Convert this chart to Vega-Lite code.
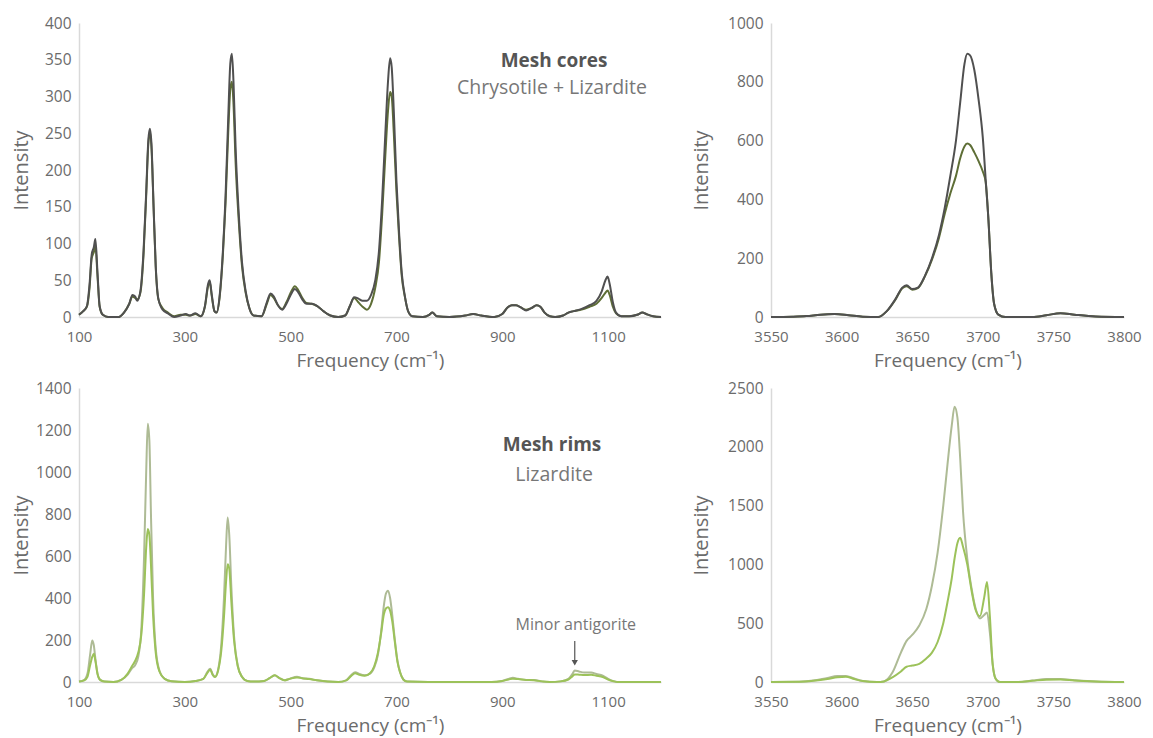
{
  "$schema": "https://vega.github.io/schema/vega-lite/v6.json",
  "padding": {"left": 11, "top": 16, "right": 5, "bottom": 1},
  "background": "white",
  "config": {
    "view": {"stroke": null},
    "font": "Open Sans",
    "axis": {
      "labelFont": "Open Sans",
      "titleFont": "Open Sans",
      "labelFontSize": 15.5,
      "titleFontSize": 20,
      "titleFontWeight": "normal",
      "labelColor": "#6b6b6b",
      "titleColor": "#6b6b6b",
      "domainColor": "#d9d9d9",
      "domainWidth": 1.5,
      "ticks": false,
      "grid": false,
      "labelFlush": false,
      "format": "d"
    },
    "axisX": {"labelPadding": 12, "titlePadding": 7, "labelFontSize": 15, "titleFontSize": 19},
    "axisY": {"labelPadding": 8}
  },
  "datasets": {
    "tlA": [
      {"f":100,"i":3},{"f":108,"i":8},{"f":115,"i":15},{"f":120,"i":45},{"f":124,"i":85},{"f":128,"i":95},{"f":131,"i":106},{"f":135,"i":60},{"f":139,"i":15},{"f":145,"i":3},{"f":155,"i":0},{"f":175,"i":0},{"f":185,"i":6},{"f":195,"i":18},{"f":201,"i":30},{"f":206,"i":28},{"f":210,"i":22},{"f":216,"i":35},{"f":222,"i":90},{"f":227,"i":170},{"f":231,"i":240},{"f":234,"i":256},{"f":237,"i":235},{"f":241,"i":150},{"f":245,"i":70},{"f":250,"i":25},{"f":258,"i":10},{"f":268,"i":5},{"f":280,"i":0},{"f":292,"i":2},{"f":302,"i":4},{"f":310,"i":2},{"f":320,"i":5},{"f":330,"i":1},{"f":338,"i":15},{"f":344,"i":45},{"f":347,"i":50},{"f":351,"i":30},{"f":356,"i":8},{"f":360,"i":6},{"f":366,"i":30},{"f":372,"i":90},{"f":377,"i":165},{"f":382,"i":270},{"f":386,"i":345},{"f":389,"i":358},{"f":392,"i":320},{"f":396,"i":230},{"f":402,"i":140},{"f":408,"i":75},{"f":415,"i":35},{"f":422,"i":12},{"f":430,"i":2},{"f":445,"i":1},{"f":455,"i":20},{"f":462,"i":32},{"f":468,"i":28},{"f":476,"i":16},{"f":484,"i":10},{"f":492,"i":18},{"f":500,"i":30},{"f":508,"i":38},{"f":514,"i":34},{"f":522,"i":24},{"f":530,"i":18},{"f":540,"i":18},{"f":552,"i":14},{"f":562,"i":8},{"f":575,"i":2},{"f":590,"i":0},{"f":603,"i":2},{"f":612,"i":15},{"f":620,"i":27},{"f":628,"i":25},{"f":636,"i":22},{"f":644,"i":22},{"f":652,"i":30},{"f":660,"i":50},{"f":667,"i":90},{"f":673,"i":160},{"f":679,"i":250},{"f":684,"i":320},{"f":688,"i":352},{"f":691,"i":340},{"f":695,"i":280},{"f":700,"i":185},{"f":705,"i":115},{"f":710,"i":60},{"f":716,"i":28},{"f":722,"i":8},{"f":730,"i":1},{"f":750,"i":0},{"f":762,"i":3},{"f":768,"i":6},{"f":776,"i":1},{"f":800,"i":0},{"f":830,"i":2},{"f":845,"i":4},{"f":860,"i":2},{"f":885,"i":0},{"f":900,"i":4},{"f":910,"i":13},{"f":918,"i":16},{"f":926,"i":16},{"f":935,"i":13},{"f":945,"i":9},{"f":955,"i":12},{"f":965,"i":16},{"f":972,"i":14},{"f":980,"i":6},{"f":990,"i":1},{"f":1000,"i":0},{"f":1015,"i":2},{"f":1025,"i":6},{"f":1035,"i":8},{"f":1050,"i":11},{"f":1065,"i":16},{"f":1078,"i":22},{"f":1088,"i":35},{"f":1095,"i":50},{"f":1099,"i":55},{"f":1103,"i":45},{"f":1109,"i":20},{"f":1115,"i":6},{"f":1125,"i":1},{"f":1140,"i":1},{"f":1155,"i":3},{"f":1165,"i":6},{"f":1172,"i":4},{"f":1185,"i":1},{"f":1200,"i":0}
    ],
    "tlB": [
      {"f":100,"i":3},{"f":108,"i":8},{"f":115,"i":14},{"f":120,"i":40},{"f":124,"i":80},{"f":128,"i":88},{"f":131,"i":96},{"f":135,"i":55},{"f":139,"i":14},{"f":145,"i":3},{"f":155,"i":0},{"f":175,"i":0},{"f":185,"i":6},{"f":195,"i":18},{"f":201,"i":28},{"f":206,"i":26},{"f":210,"i":24},{"f":216,"i":33},{"f":222,"i":85},{"f":227,"i":165},{"f":231,"i":235},{"f":234,"i":252},{"f":237,"i":230},{"f":241,"i":148},{"f":245,"i":68},{"f":250,"i":24},{"f":258,"i":12},{"f":268,"i":6},{"f":280,"i":1},{"f":292,"i":3},{"f":302,"i":3},{"f":310,"i":2},{"f":320,"i":4},{"f":330,"i":1},{"f":338,"i":14},{"f":344,"i":42},{"f":347,"i":48},{"f":351,"i":28},{"f":356,"i":8},{"f":360,"i":6},{"f":366,"i":28},{"f":372,"i":85},{"f":377,"i":155},{"f":382,"i":250},{"f":386,"i":310},{"f":389,"i":320},{"f":392,"i":290},{"f":396,"i":210},{"f":402,"i":130},{"f":408,"i":70},{"f":415,"i":33},{"f":422,"i":12},{"f":430,"i":2},{"f":445,"i":1},{"f":455,"i":18},{"f":462,"i":30},{"f":468,"i":26},{"f":476,"i":16},{"f":484,"i":11},{"f":492,"i":20},{"f":500,"i":33},{"f":508,"i":42},{"f":514,"i":37},{"f":522,"i":26},{"f":530,"i":19},{"f":540,"i":18},{"f":552,"i":14},{"f":562,"i":8},{"f":575,"i":2},{"f":590,"i":0},{"f":603,"i":2},{"f":612,"i":15},{"f":620,"i":26},{"f":628,"i":20},{"f":636,"i":14},{"f":644,"i":10},{"f":652,"i":18},{"f":660,"i":40},{"f":667,"i":75},{"f":673,"i":140},{"f":679,"i":220},{"f":684,"i":280},{"f":688,"i":306},{"f":691,"i":300},{"f":695,"i":250},{"f":700,"i":170},{"f":705,"i":108},{"f":710,"i":56},{"f":716,"i":27},{"f":722,"i":8},{"f":730,"i":1},{"f":750,"i":0},{"f":762,"i":3},{"f":768,"i":6},{"f":776,"i":1},{"f":800,"i":0},{"f":830,"i":2},{"f":845,"i":4},{"f":860,"i":2},{"f":885,"i":0},{"f":900,"i":4},{"f":910,"i":13},{"f":918,"i":16},{"f":926,"i":16},{"f":935,"i":13},{"f":945,"i":10},{"f":955,"i":12},{"f":965,"i":16},{"f":972,"i":14},{"f":980,"i":6},{"f":990,"i":1},{"f":1000,"i":0},{"f":1015,"i":2},{"f":1025,"i":6},{"f":1035,"i":8},{"f":1050,"i":10},{"f":1065,"i":14},{"f":1078,"i":18},{"f":1088,"i":26},{"f":1095,"i":33},{"f":1099,"i":36},{"f":1103,"i":30},{"f":1109,"i":14},{"f":1115,"i":5},{"f":1125,"i":1},{"f":1140,"i":1},{"f":1155,"i":3},{"f":1165,"i":6},{"f":1172,"i":4},{"f":1185,"i":1},{"f":1200,"i":0}
    ],
    "trA": [
      {"f":3550,"i":0},{"f":3565,"i":1},{"f":3575,"i":3},{"f":3585,"i":8},{"f":3595,"i":10},{"f":3605,"i":6},{"f":3615,"i":1},{"f":3626,"i":0},{"f":3632,"i":20},{"f":3638,"i":60},{"f":3643,"i":100},{"f":3646,"i":108},{"f":3650,"i":95},{"f":3654,"i":100},{"f":3659,"i":140},{"f":3664,"i":200},{"f":3669,"i":280},{"f":3673,"i":370},{"f":3677,"i":480},{"f":3681,"i":600},{"f":3684,"i":730},{"f":3687,"i":860},{"f":3689,"i":895},{"f":3691,"i":890},{"f":3694,"i":840},{"f":3697,"i":740},{"f":3700,"i":610},{"f":3702,"i":470},{"f":3704,"i":330},{"f":3706,"i":150},{"f":3708,"i":45},{"f":3711,"i":8},{"f":3716,"i":0},{"f":3735,"i":0},{"f":3745,"i":6},{"f":3755,"i":13},{"f":3765,"i":8},{"f":3780,"i":2},{"f":3800,"i":0}
    ],
    "trB": [
      {"f":3550,"i":0},{"f":3565,"i":1},{"f":3575,"i":3},{"f":3585,"i":8},{"f":3595,"i":10},{"f":3605,"i":6},{"f":3615,"i":1},{"f":3626,"i":0},{"f":3632,"i":20},{"f":3638,"i":58},{"f":3643,"i":98},{"f":3646,"i":105},{"f":3650,"i":93},{"f":3654,"i":98},{"f":3659,"i":138},{"f":3664,"i":195},{"f":3669,"i":270},{"f":3673,"i":350},{"f":3677,"i":420},{"f":3681,"i":480},{"f":3684,"i":540},{"f":3687,"i":580},{"f":3689,"i":590},{"f":3691,"i":585},{"f":3694,"i":560},{"f":3697,"i":530},{"f":3700,"i":495},{"f":3702,"i":460},{"f":3704,"i":330},{"f":3706,"i":150},{"f":3708,"i":45},{"f":3711,"i":8},{"f":3716,"i":0},{"f":3735,"i":0},{"f":3745,"i":6},{"f":3755,"i":13},{"f":3765,"i":8},{"f":3780,"i":2},{"f":3800,"i":0}
    ],
    "blA": [
      {"f":100,"i":2},{"f":110,"i":10},{"f":116,"i":40},{"f":121,"i":130},{"f":125,"i":198},{"f":128,"i":175},{"f":131,"i":110},{"f":135,"i":40},{"f":140,"i":10},{"f":148,"i":2},{"f":165,"i":0},{"f":180,"i":10},{"f":192,"i":35},{"f":200,"i":65},{"f":206,"i":80},{"f":212,"i":120},{"f":218,"i":260},{"f":223,"i":600},{"f":227,"i":1000},{"f":230,"i":1230},{"f":233,"i":1150},{"f":236,"i":800},{"f":240,"i":400},{"f":245,"i":160},{"f":252,"i":55},{"f":262,"i":15},{"f":275,"i":3},{"f":300,"i":0},{"f":320,"i":5},{"f":335,"i":15},{"f":343,"i":50},{"f":348,"i":63},{"f":353,"i":35},{"f":357,"i":25},{"f":363,"i":60},{"f":369,"i":180},{"f":374,"i":400},{"f":378,"i":650},{"f":381,"i":783},{"f":384,"i":700},{"f":388,"i":450},{"f":393,"i":220},{"f":400,"i":80},{"f":408,"i":25},{"f":418,"i":5},{"f":430,"i":2},{"f":450,"i":5},{"f":460,"i":18},{"f":470,"i":32},{"f":478,"i":20},{"f":488,"i":8},{"f":498,"i":15},{"f":512,"i":25},{"f":522,"i":18},{"f":535,"i":15},{"f":550,"i":8},{"f":570,"i":2},{"f":590,"i":0},{"f":605,"i":8},{"f":615,"i":35},{"f":622,"i":47},{"f":630,"i":38},{"f":640,"i":32},{"f":650,"i":40},{"f":658,"i":70},{"f":665,"i":130},{"f":671,"i":240},{"f":676,"i":360},{"f":680,"i":420},{"f":684,"i":435},{"f":688,"i":400},{"f":692,"i":320},{"f":697,"i":200},{"f":702,"i":100},{"f":707,"i":45},{"f":713,"i":12},{"f":720,"i":2},{"f":760,"i":0},{"f":880,"i":0},{"f":900,"i":5},{"f":912,"i":15},{"f":920,"i":20},{"f":930,"i":15},{"f":945,"i":10},{"f":960,"i":10},{"f":975,"i":3},{"f":990,"i":0},{"f":1010,"i":3},{"f":1025,"i":15},{"f":1033,"i":40},{"f":1037,"i":55},{"f":1045,"i":50},{"f":1055,"i":45},{"f":1068,"i":45},{"f":1078,"i":38},{"f":1090,"i":30},{"f":1100,"i":15},{"f":1110,"i":4},{"f":1118,"i":0},{"f":1200,"i":0}
    ],
    "blB": [
      {"f":100,"i":2},{"f":110,"i":8},{"f":116,"i":25},{"f":121,"i":80},{"f":125,"i":120},{"f":128,"i":134},{"f":131,"i":100},{"f":135,"i":38},{"f":140,"i":10},{"f":148,"i":2},{"f":165,"i":0},{"f":180,"i":10},{"f":192,"i":40},{"f":200,"i":75},{"f":206,"i":100},{"f":212,"i":140},{"f":218,"i":230},{"f":223,"i":420},{"f":227,"i":640},{"f":230,"i":728},{"f":233,"i":700},{"f":236,"i":560},{"f":240,"i":320},{"f":245,"i":140},{"f":252,"i":50},{"f":262,"i":15},{"f":275,"i":3},{"f":300,"i":0},{"f":320,"i":5},{"f":335,"i":15},{"f":343,"i":45},{"f":348,"i":58},{"f":353,"i":33},{"f":357,"i":24},{"f":363,"i":55},{"f":369,"i":150},{"f":374,"i":310},{"f":378,"i":480},{"f":381,"i":561},{"f":384,"i":540},{"f":388,"i":380},{"f":393,"i":200},{"f":400,"i":75},{"f":408,"i":25},{"f":418,"i":5},{"f":430,"i":2},{"f":450,"i":5},{"f":460,"i":18},{"f":470,"i":32},{"f":478,"i":20},{"f":488,"i":8},{"f":498,"i":15},{"f":512,"i":22},{"f":522,"i":18},{"f":535,"i":14},{"f":550,"i":8},{"f":570,"i":2},{"f":590,"i":0},{"f":605,"i":8},{"f":615,"i":30},{"f":622,"i":42},{"f":630,"i":34},{"f":640,"i":30},{"f":650,"i":42},{"f":658,"i":75},{"f":665,"i":140},{"f":671,"i":230},{"f":676,"i":320},{"f":680,"i":350},{"f":684,"i":356},{"f":688,"i":340},{"f":692,"i":290},{"f":697,"i":190},{"f":702,"i":95},{"f":707,"i":45},{"f":713,"i":12},{"f":720,"i":2},{"f":760,"i":0},{"f":880,"i":0},{"f":900,"i":5},{"f":912,"i":12},{"f":920,"i":16},{"f":930,"i":14},{"f":945,"i":10},{"f":960,"i":8},{"f":975,"i":3},{"f":990,"i":0},{"f":1010,"i":3},{"f":1025,"i":12},{"f":1033,"i":28},{"f":1037,"i":36},{"f":1045,"i":35},{"f":1055,"i":33},{"f":1068,"i":34},{"f":1078,"i":30},{"f":1090,"i":24},{"f":1100,"i":12},{"f":1110,"i":4},{"f":1118,"i":0},{"f":1200,"i":0}
    ],
    "brA": [
      {"f":3550,"i":0},{"f":3570,"i":2},{"f":3580,"i":12},{"f":3590,"i":35},{"f":3597,"i":50},{"f":3603,"i":52},{"f":3609,"i":30},{"f":3615,"i":8},{"f":3625,"i":0},{"f":3630,"i":5},{"f":3636,"i":80},{"f":3642,"i":250},{"f":3646,"i":350},{"f":3650,"i":400},{"f":3655,"i":480},{"f":3660,"i":620},{"f":3664,"i":820},{"f":3668,"i":1100},{"f":3672,"i":1500},{"f":3675,"i":1850},{"f":3678,"i":2180},{"f":3680,"i":2340},{"f":3682,"i":2250},{"f":3684,"i":1900},{"f":3686,"i":1450},{"f":3689,"i":1050},{"f":3692,"i":800},{"f":3695,"i":620},{"f":3698,"i":540},{"f":3701,"i":570},{"f":3703,"i":590},{"f":3705,"i":420},{"f":3707,"i":150},{"f":3709,"i":30},{"f":3712,"i":0},{"f":3725,"i":0},{"f":3735,"i":12},{"f":3745,"i":25},{"f":3755,"i":25},{"f":3765,"i":15},{"f":3780,"i":4},{"f":3800,"i":0}
    ],
    "brB": [
      {"f":3550,"i":0},{"f":3570,"i":2},{"f":3580,"i":10},{"f":3590,"i":25},{"f":3597,"i":40},{"f":3603,"i":45},{"f":3609,"i":25},{"f":3615,"i":8},{"f":3625,"i":0},{"f":3630,"i":5},{"f":3636,"i":40},{"f":3642,"i":90},{"f":3646,"i":130},{"f":3650,"i":140},{"f":3655,"i":155},{"f":3660,"i":200},{"f":3664,"i":250},{"f":3668,"i":340},{"f":3672,"i":500},{"f":3675,"i":680},{"f":3678,"i":880},{"f":3680,"i":1050},{"f":3682,"i":1180},{"f":3684,"i":1226},{"f":3686,"i":1150},{"f":3689,"i":1000},{"f":3692,"i":780},{"f":3695,"i":610},{"f":3698,"i":560},{"f":3701,"i":720},{"f":3703,"i":850},{"f":3705,"i":560},{"f":3707,"i":150},{"f":3709,"i":30},{"f":3712,"i":0},{"f":3725,"i":0},{"f":3735,"i":10},{"f":3745,"i":20},{"f":3755,"i":22},{"f":3765,"i":12},{"f":3780,"i":4},{"f":3800,"i":0}
    ]
  },
  "spacing": 11,
  "vconcat": [
    {
      "spacing": 26,
      "hconcat": [
        {
          "width": 582,
          "height": 294,
          "encoding": {
            "x": {"field": "f", "type": "quantitative", "scale": {"domain": [100, 1200], "nice": false}, "axis": {"values": [100, 300, 500, 700, 900, 1100], "title": "Frequency (cm⁻¹)"}},
            "y": {"field": "i", "type": "quantitative", "scale": {"domain": [0, 400], "nice": false}, "axis": {"values": [0, 50, 100, 150, 200, 250, 300, 350, 400], "title": "Intensity", "titlePadding": 13}}
          },
          "layer": [
            {"data": {"name": "tlB"}, "mark": {"type": "line", "interpolate": "monotone", "strokeWidth": 2, "color": "#5e6e36"}},
            {"data": {"name": "tlA"}, "mark": {"type": "line", "interpolate": "monotone", "strokeWidth": 2, "color": "#505050"}},
            {"data": {"values": [{"f": 998, "i": 348, "t": "Mesh cores"}]}, "mark": {"type": "text", "fontWeight": "bold", "fontSize": 19, "color": "#555555", "baseline": "middle"}, "encoding": {"text": {"field": "t"}}},
            {"data": {"values": [{"f": 994, "i": 311, "t": "Chrysotile + Lizardite"}]}, "mark": {"type": "text", "fontSize": 19.5, "color": "#777777", "baseline": "middle"}, "encoding": {"text": {"field": "t"}}}
          ]
        },
        {
          "width": 353,
          "height": 294,
          "encoding": {
            "x": {"field": "f", "type": "quantitative", "scale": {"domain": [3550, 3800], "nice": false}, "axis": {"values": [3550, 3600, 3650, 3700, 3750, 3800], "title": "Frequency (cm⁻¹)"}},
            "y": {"field": "i", "type": "quantitative", "scale": {"domain": [0, 1000], "nice": false}, "axis": {"values": [0, 200, 400, 600, 800, 1000], "title": "Intensity", "titlePadding": 16}}
          },
          "layer": [
            {"data": {"name": "trB"}, "mark": {"type": "line", "interpolate": "monotone", "strokeWidth": 2, "color": "#5e6e36"}},
            {"data": {"name": "trA"}, "mark": {"type": "line", "interpolate": "monotone", "strokeWidth": 2, "color": "#505050"}}
          ]
        }
      ]
    },
    {
      "spacing": 26,
      "hconcat": [
        {
          "width": 582,
          "height": 294,
          "encoding": {
            "x": {"field": "f", "type": "quantitative", "scale": {"domain": [100, 1200], "nice": false}, "axis": {"values": [100, 300, 500, 700, 900, 1100], "title": "Frequency (cm⁻¹)"}},
            "y": {"field": "i", "type": "quantitative", "scale": {"domain": [0, 1400], "nice": false}, "axis": {"values": [0, 200, 400, 600, 800, 1000, 1200, 1400], "title": "Intensity", "titlePadding": 4}}
          },
          "layer": [
            {"data": {"name": "blA"}, "mark": {"type": "line", "interpolate": "monotone", "strokeWidth": 2, "color": "#aebb95"}},
            {"data": {"name": "blB"}, "mark": {"type": "line", "interpolate": "monotone", "strokeWidth": 2, "color": "#9cc25a"}},
            {"data": {"values": [{"f": 994, "i": 1130, "t": "Mesh rims"}]}, "mark": {"type": "text", "fontWeight": "bold", "fontSize": 19, "color": "#555555", "baseline": "middle"}, "encoding": {"text": {"field": "t"}}},
            {"data": {"values": [{"f": 998, "i": 987, "t": "Lizardite"}]}, "mark": {"type": "text", "fontSize": 19.5, "color": "#777777", "baseline": "middle"}, "encoding": {"text": {"field": "t"}}},
            {"data": {"values": [{"f": 1039, "i": 270, "t": "Minor antigorite"}]}, "mark": {"type": "text", "fontSize": 16, "color": "#777777", "baseline": "middle"}, "encoding": {"text": {"field": "t"}}},
            {"data": {"values": [{"f": 1037, "i": 195, "i2": 100}]}, "mark": {"type": "rule", "color": "#555555", "strokeWidth": 1.2}, "encoding": {"y": {"field": "i", "type": "quantitative"}, "y2": {"field": "i2"}}},
            {"data": {"values": [{"f": 1037, "i": 92}]}, "mark": {"type": "point", "shape": "triangle-down", "filled": true, "size": 40, "color": "#555555", "opacity": 1}}
          ]
        },
        {
          "width": 353,
          "height": 294,
          "encoding": {
            "x": {"field": "f", "type": "quantitative", "scale": {"domain": [3550, 3800], "nice": false}, "axis": {"values": [3550, 3600, 3650, 3700, 3750, 3800], "title": "Frequency (cm⁻¹)"}},
            "y": {"field": "i", "type": "quantitative", "scale": {"domain": [0, 2500], "nice": false}, "axis": {"values": [0, 500, 1000, 1500, 2000, 2500], "title": "Intensity", "titlePadding": 16}}
          },
          "layer": [
            {"data": {"name": "brA"}, "mark": {"type": "line", "interpolate": "monotone", "strokeWidth": 2, "color": "#aebb95"}},
            {"data": {"name": "brB"}, "mark": {"type": "line", "interpolate": "monotone", "strokeWidth": 2, "color": "#9cc25a"}}
          ]
        }
      ]
    }
  ]
}
